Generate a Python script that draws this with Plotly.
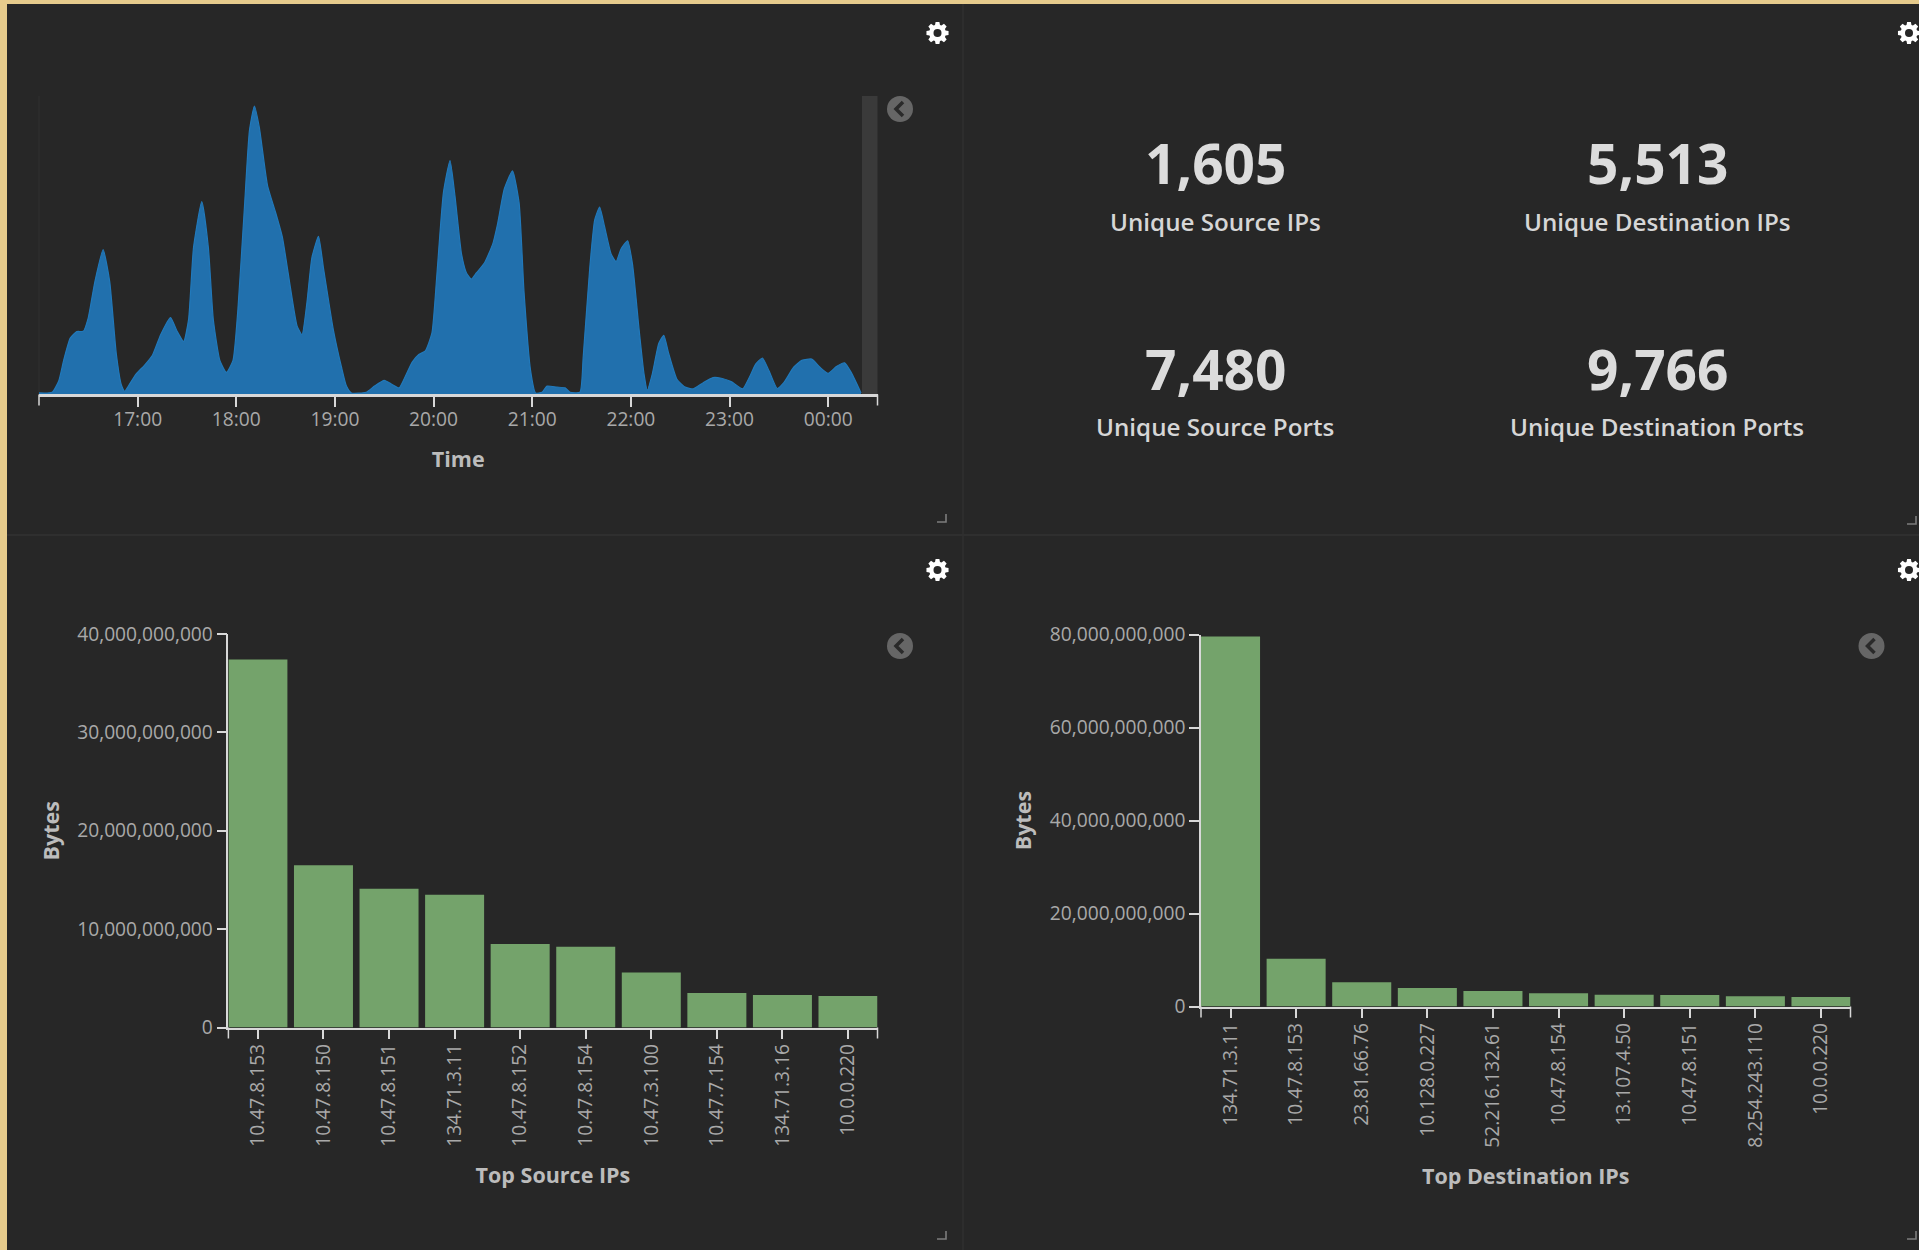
import math
import pandas as pd
import plotly.graph_objects as go

W, H = 1919, 1250

time_labels = """16:00 16:08 16:12 16:15 16:19 16:23 16:27 16:30 16:34 16:39 16:43 16:47 16:50 16:52 16:55 16:59
17:04 17:09 17:14 17:20 17:24 17:28 17:31 17:34 17:39 17:43 17:46 17:50 17:54 17:58
18:01 18:05 18:08 18:11 18:14 18:19 18:24 18:28 18:33 18:37 18:40 18:43 18:46 18:50 18:53 18:59
19:04 19:07 19:10 19:19 19:24 19:30 19:34 19:39 19:42 19:47 19:51 19:55 19:59
20:02 20:06 20:10 20:13 20:17 20:20 20:23 20:26 20:31 20:36 20:39 20:43 20:48 20:52 20:55 20:59
21:02 21:06 21:09 21:15 21:20 21:23 21:29 21:31 21:35 21:38 21:41 21:44 21:48 21:51 21:54 21:58
22:01 22:05 22:08 22:10 22:13 22:17 22:20 22:23 22:28 22:33 22:38 22:44 22:50 22:55
23:01 23:08 23:12 23:16 23:20 23:24 23:29 23:33 23:39 23:44 23:50 23:55
00:00 00:05 00:10 00:14 00:20""".split()

time_values = [3, 5, 38, 98, 163, 182, 183, 223, 328, 421, 328, 118, 28, 8, 28, 58,
               83, 113, 173, 223, 183, 153, 218, 428, 561, 428, 218, 98, 63, 98,
               248, 548, 768, 840, 778, 608, 528, 458, 308, 198, 173, 268, 398, 460, 368, 188,
               78, 23, 3, 5, 23, 40, 30, 18, 43, 93, 115, 126, 178,
               348, 588, 681, 578, 408, 353, 335, 353, 383, 438, 498, 598, 651, 558, 298, 68,
               3, 5, 23, 20, 18, 5, 5, 108, 368, 508, 545, 488, 408, 386, 423, 447,
               378, 188, 58, 11, 58, 148, 171, 118, 43, 20, 15, 33, 48, 46, 36,
               15, 48, 88, 105, 68, 16, 33, 78, 98, 102, 78,
               60, 80, 91, 63, 3]

hour_ticks = ["2018-01-01 17:00", "2018-01-01 18:00", "2018-01-01 19:00", "2018-01-01 20:00",
              "2018-01-01 21:00", "2018-01-01 22:00", "2018-01-01 23:00", "2018-01-02 00:00"]
hour_tick_labels = ["17:00", "18:00", "19:00", "20:00", "21:00", "22:00", "23:00", "00:00"]

src_ips = ["10.47.8.153", "10.47.8.150", "10.47.8.151", "134.71.3.11", "10.47.8.152",
           "10.47.8.154", "10.47.3.100", "10.47.7.154", "134.71.3.16", "10.0.0.220"]
src_bytes = [37.4e9, 16.5e9, 14.1e9, 13.5e9, 8.5e9, 8.2e9, 5.6e9, 3.5e9, 3.3e9, 3.2e9]

dst_ips = ["134.71.3.11", "10.47.8.153", "23.81.66.76", "10.128.0.227", "52.216.132.61",
           "10.47.8.154", "13.107.4.50", "10.47.8.151", "8.254.243.110", "10.0.0.220"]
dst_bytes = [79.6e9, 10.3e9, 5.2e9, 4.0e9, 3.35e9, 2.85e9, 2.55e9, 2.45e9, 2.2e9, 2.05e9]

metric_values = ["1,605", "5,513", "7,480", "9,766"]
metric_labels = ["Unique Source IPs", "Unique Destination IPs", "Unique Source Ports", "Unique Destination Ports"]

GOLD = "#e6cb8c"
PANEL = "#272727"
FONT = "Open Sans, Noto Sans, sans-serif"
TICK = "#a9a9a9"
TITLE = "#bcbcbc"
AXIS = "#d8d8d8"
GREEN = "#74a36b"


def fx(px):
    return px / W


def fy(px):
    return 1 - px / H


times = [pd.Timestamp(f"2018-01-{'02' if t < '16' else '01'} {t}") for t in time_labels]

fig = go.Figure()
fig.add_trace(go.Scatter(x=times, y=time_values, mode="lines", fill="tozeroy",
                         fillcolor="#2170ad", line=dict(color="#2179bb", width=1.2, shape="spline", smoothing=0.5),
                         hoverinfo="skip", xaxis="x", yaxis="y"))
fig.add_trace(go.Bar(x=src_ips, y=src_bytes, marker=dict(color=GREEN, line_width=0), xaxis="x2", yaxis="y2"))
fig.add_trace(go.Bar(x=dst_ips, y=dst_bytes, marker=dict(color=GREEN, line_width=0), xaxis="x3", yaxis="y3"))

tickfont = dict(family=FONT, size=19.2, color=TICK)
titlefont = dict(family=FONT, size=21.5, color=TITLE, weight=700)


def cat_axis(title, left, right, bottom_anchor, standoff):
    return dict(domain=[fx(left), fx(right)], anchor=bottom_anchor, type="category", automargin=False,
                range=[-0.45, 9.45], tickangle=-90, ticks="outside", ticklen=10, tickwidth=1.5,
                tickcolor=AXIS, showline=True, linecolor=AXIS, linewidth=1.5, showgrid=False,
                zeroline=False, tickfont=tickfont, ticklabelstandoff=-3,
                title=dict(text=title, font=titlefont, standoff=standoff))


def val_axis(top, bottom, anchor, rmax, step, standoff):
    return dict(domain=[fy(bottom), fy(top)], anchor=anchor, range=[0, rmax], dtick=step, automargin=False,
                tickformat=",", ticks="outside", ticklen=10, tickwidth=1.5, tickcolor=AXIS,
                showline=True, linecolor=AXIS, linewidth=1.5, showgrid=False, zeroline=False,
                tickfont=tickfont,
                title=dict(text="Bytes", font=titlefont, standoff=standoff))


shapes = [
    dict(type="rect", xref="paper", yref="paper", x0=fx(7), x1=1, y0=0, y1=fy(4),
         fillcolor=PANEL, line_width=0, layer="below"),
    dict(type="line", xref="paper", yref="paper", x0=fx(963), x1=fx(963), y0=0, y1=fy(4),
         line=dict(color="#2d2d2d", width=2), layer="below"),
    dict(type="line", xref="paper", yref="paper", x0=fx(7), x1=1, y0=fy(535), y1=fy(535),
         line=dict(color="#2f2f2f", width=2), layer="below"),
    dict(type="rect", xref="paper", yref="paper", x0=fx(862), x1=fx(877.5), y0=fy(394), y1=fy(96),
         fillcolor="#3a3a3a", line_width=0, layer="below"),
    dict(type="line", xref="paper", yref="paper", x0=fx(39), x1=fx(39), y0=fy(394), y1=fy(96),
         line=dict(color="#303030", width=1), layer="below"),
]

# end ticks of the band axes
for left, right, base in [(39, 877.5, 394.5), (228.4, 877.5, 1027.5), (1201, 1850.5, 1006.5)]:
    for xp in (left, right):
        shapes.append(dict(type="line", xref="paper", yref="paper", x0=fx(xp), x1=fx(xp),
                           y0=fy(base), y1=fy(base + 11), line=dict(color=AXIS, width=1.5)))

annotations = []
# settings gears as solid icons
for cx, cy in [(937.5, 33), (1909, 33), (937.5, 570), (1909, 570)]:
    pts = []
    for i in range(8):
        a = i * math.pi / 4
        for da, r in [(-0.30, 8.4), (-0.17, 11.2), (0.17, 11.2), (0.30, 8.4)]:
            pts.append((cx + r * math.cos(a + da), cy + r * math.sin(a + da)))
    p = "M " + " L ".join(f"{fx(x)} {fy(y)}" for x, y in pts) + " Z"
    shapes.append(dict(type="path", xref="paper", yref="paper", path=p, fillcolor="#ffffff", line_width=0))
    shapes.append(dict(type="circle", xref="paper", yref="paper", x0=fx(cx - 4), x1=fx(cx + 4),
                       y0=fy(cy + 4), y1=fy(cy - 4), fillcolor=PANEL, line_width=0))
# collapse chevrons
for cx, cy in [(900, 109), (900, 646), (1871.5, 646)]:
    r = 13
    shapes.append(dict(type="circle", xref="paper", yref="paper", x0=fx(cx - r), x1=fx(cx + r),
                       y0=fy(cy + r), y1=fy(cy - r), fillcolor="#666666", line_width=0))
    shapes.append(dict(type="path", xref="paper", yref="paper",
                       path=f"M {fx(cx + 3)} {fy(cy - 7)} L {fx(cx - 4)} {fy(cy)} L {fx(cx + 3)} {fy(cy + 7)}",
                       line=dict(color="#2a2a2a", width=3.5)))
# resize corners
for cx, cy in [(946, 518), (1916, 520), (946, 1235), (1916, 1235)]:
    shapes.append(dict(type="path", xref="paper", yref="paper",
                       path=f"M {fx(cx - 9)} {fy(cy + 4)} L {fx(cx)} {fy(cy + 4)} L {fx(cx)} {fy(cy - 4)}",
                       line=dict(color="#7d7d7d", width=1.6)))

metric_pos = [(1215, 163, 221), (1657, 163, 221), (1215, 368, 426), (1657, 368, 426)]
for val, lab, (cx, vy, ly) in zip(metric_values, metric_labels, metric_pos):
    annotations.append(dict(xref="paper", yref="paper", x=fx(cx), y=fy(vy), text=val, showarrow=False,
                            font=dict(family=FONT, size=55, color="#dcdcdc", weight=700),
                            xanchor="center", yanchor="middle"))
    annotations.append(dict(xref="paper", yref="paper", x=fx(cx), y=fy(ly), text=lab, showarrow=False,
                            font=dict(family=FONT, size=24.2, color="#d6d6d6", weight=600),
                            xanchor="center", yanchor="middle"))

fig.update_layout(
    width=W, height=H, margin=dict(l=0, r=0, t=0, b=0, autoexpand=False), autosize=False,
    paper_bgcolor=GOLD, plot_bgcolor="rgba(0,0,0,0)", showlegend=False, bargap=0.1,
    shapes=shapes, annotations=annotations,
    xaxis=dict(domain=[fx(39), fx(877.5)], anchor="y", type="date", automargin=False,
               range=["2018-01-01 16:00", "2018-01-02 00:30"],
               tickmode="array", tickvals=hour_ticks, ticktext=hour_tick_labels,
               ticks="outside", ticklen=10, tickwidth=1.5, tickcolor=AXIS, showline=True, linecolor=AXIS,
               linewidth=2.5, showgrid=False, zeroline=False, tickfont=tickfont, ticklabelstandoff=-4,
               title=dict(text="Time", font=titlefont, standoff=22)),
    yaxis=dict(domain=[fy(394), fy(96.4)], anchor="x", range=[0, 868], visible=False, automargin=False),
    xaxis2=cat_axis("Top Source IPs", 228.4, 877.5, "y2", 22),
    yaxis2=val_axis(634, 1027.5, "x2", 40e9, 10e9, 12),
    xaxis3=cat_axis("Top Destination IPs", 1201, 1850.5, "y3", 22),
    yaxis3=val_axis(634.7, 1006.5, "x3", 80e9, 20e9, 12),
)

fig.write_html("out.html", config={"displayModeBar": False},
               post_script="document.body.style.margin='0';")
